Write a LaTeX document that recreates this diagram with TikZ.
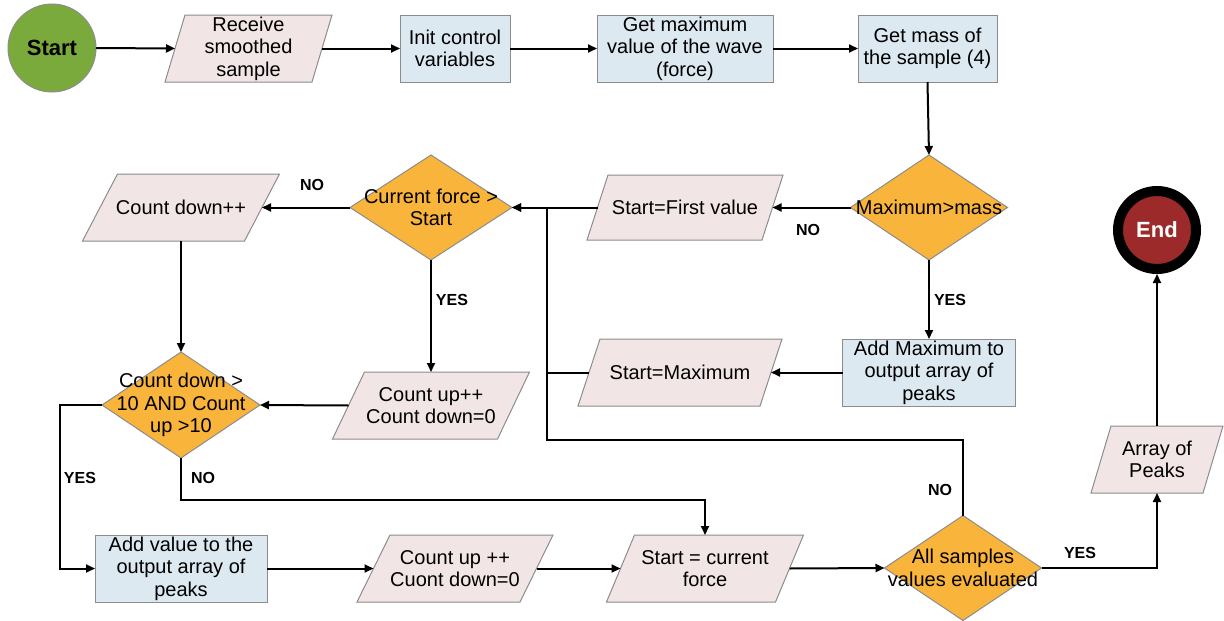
\documentclass[tikz,border=0pt]{standalone}
\usepackage{fontspec}
\setmainfont{Liberation Sans}
\usetikzlibrary{shapes.geometric,arrows.meta}
\definecolor{boxblue}{HTML}{DDE9F1}
\definecolor{parapink}{HTML}{F2E5E5}
\definecolor{decor}{HTML}{F9B43C}
\definecolor{startg}{HTML}{7BAA3C}
\definecolor{endr}{HTML}{9C2A2A}
\definecolor{edgegray}{HTML}{8C8C8C}
\tikzset{
  base/.style={draw=edgegray, line width=1pt, inner sep=0pt, outer sep=0pt},
  procbox/.style={base, rectangle, fill=boxblue},
  iofrm/.style={rectangle, draw=none, inner sep=0pt, outer sep=0pt},
  ioedge/.style={draw=edgegray, line width=1pt, fill=parapink, line join=miter},
  decbox/.style={base, diamond, fill=decor},
  txt/.style={align=center, font=\fontsize{20}{22.5}\selectfont, inner sep=0pt},
  lbl/.style={font=\fontsize{16}{18}\selectfont\bfseries, inner sep=0pt},
  conn/.style={line width=2pt, -{Triangle[length=9pt,width=8pt]}},
  wire/.style={line width=2pt}
}
% #1 name, #2 centre, #3 mid width, #4 height, #5 skew, #6 text
\newcommand\ioshape[6]{%
  \node[iofrm, minimum width=#3pt, minimum height=#4pt] (#1) at (#2) {};
  \path[ioedge] ([xshift=-0.5*#5pt]#1.south west) -- ([xshift=-0.5*#5pt]#1.south east)
     -- ([xshift=0.5*#5pt]#1.north east) -- ([xshift=0.5*#5pt]#1.north west) -- cycle;
  \node[txt] (#1t) at (#1.center) {#6};
}
\begin{document}
\begin{tikzpicture}[x=1pt,y=-1pt]
\useasboundingbox (0,0) rectangle (1224,621);
% terminals
\node[circle, fill=startg, draw=edgegray, line width=1pt, minimum size=88pt, inner sep=0pt, outer sep=0pt]
  (start) at (52,48) {\fontsize{22}{24}\selectfont\bfseries Start};
\node[circle, fill=endr, draw=black, line width=10pt, minimum size=78pt, inner sep=0pt, outer sep=5pt]
  (end) at (1157,230) {\color{white}\fontsize{22}{24}\selectfont\bfseries End};
% top row
\ioshape{recv}{248.5,48.5}{147}{67}{20}{Receive\\smoothed\\sample}
\node[procbox, minimum width=110pt, minimum height=67pt] (init) at (455,48.5) {};
\node[txt] (initt) at (init.center) {Init control\\variables};
\node[procbox, minimum width=176pt, minimum height=67pt] (getmax) at (685,48.5) {};
\node[txt] (getmaxt) at (getmax.center) {Get maximum\\value of the wave\\(force)};
\node[procbox, minimum width=139pt, minimum height=67pt] (getmass) at (927.5,48.5) {};
\node[txt] (getmasst) at (getmass.center) {Get mass of\\the sample (4)};
% second row
\node[decbox, minimum width=157pt, minimum height=105pt] (dmax) at (929,207.5) {};
\node[txt] (dmaxt) at (dmax.center) {Maximum>mass};
\ioshape{sfirst}{685,207.5}{175}{65}{21}{Start=First value}
\node[decbox, minimum width=162pt, minimum height=105pt] (dcur) at (431,207.5) {};
\node[txt] (dcurt) at (dcur.center) {Current force >\\Start};
\ioshape{cdown}{181,207.5}{162}{67}{35}{Count down++}
% third row
\node[decbox, minimum width=158pt, minimum height=106pt] (dcnt) at (181,405) {};
\node[txt] (dcntt) at (dcnt.center) {Count down >\\10 AND Count\\up >10};
\ioshape{cup}{431,405.5}{165}{67}{32}{Count up++\\Count down=0}
\ioshape{smax}{680,372.5}{182}{67}{22}{Start=Maximum}
\node[procbox, minimum width=173pt, minimum height=67pt] (addmax) at (929,372.5) {};
\node[txt] (addmaxt) at (addmax.center) {Add Maximum to\\output array of\\peaks};
\ioshape{arr}{1157,459.5}{112}{67}{20}{Array of\\Peaks}
% bottom row
\node[procbox, minimum width=172pt, minimum height=67pt] (addval) at (181,568.5) {};
\node[txt] (addvalt) at (addval.center) {Add value to the\\output array of\\peaks};
\ioshape{cup2}{455,568.5}{163}{67}{33}{Count up ++\\Cuont down=0}
\ioshape{scur}{705,568.5}{169}{67}{28}{Start = current\\force}
\node[decbox, minimum width=157pt, minimum height=105pt] (dall) at (963,568) {};
\node[txt] (dallt) at (dall.center) {All samples\\values evaluated};
% helper coordinates
\coordinate (busM) at (547,372.5);
\coordinate (busB) at (547,440);
\coordinate (yesL) at (60,405);
\coordinate (noB) at (705,500);
% connectors
\draw[conn] (start.east) -- (recv.west);
\draw[conn] (recv.east) -- (init.west);
\draw[conn] (init.east) -- (getmax.west);
\draw[conn] (getmax.east) -- (getmass.west);
\draw[conn] (getmass.south) -- (dmax.north);
\draw[conn] (dmax.west) -- (sfirst.east);
\draw[conn] (dmax.south) -- (addmax.north);
\draw[conn] (addmax.west) -- (smax.east);
\draw[conn] (sfirst.west) -- (dcur.east);
\draw[wire] (smax.west) -- (busM);
\draw[conn] (dall.north) |- (busB) |- (dcur.east);
\draw[conn] (dcur.west) -- (cdown.east);
\draw[conn] (dcur.south) -- (cup.north);
\draw[conn] (cdown.south) -- (dcnt.north);
\draw[conn] (cup.west) -- (dcnt.east);
\draw[conn] (dcnt.west) -- (yesL) |- (addval.west);
\draw[conn] (dcnt.south) |- (noB) -- (scur.north);
\draw[conn] (addval.east) -- (cup2.west);
\draw[conn] (cup2.east) -- (scur.west);
\draw[conn] (scur.east) -- (dall.west);
\draw[conn] (dall.east) -| (arr.south);
\draw[conn] (arr.north) -- (end.south);
% labels
\node[lbl] (l1) at (312,185) {NO};
\node[lbl] (l2) at (808,230) {NO};
\node[lbl] (l3) at (950,300) {YES};
\node[lbl] (l4) at (452,300) {YES};
\node[lbl] (l5) at (80,478) {YES};
\node[lbl] (l6) at (203,478) {NO};
\node[lbl] (l7) at (940,490) {NO};
\node[lbl] (l8) at (1080,553) {YES};
\end{tikzpicture}
\end{document}
